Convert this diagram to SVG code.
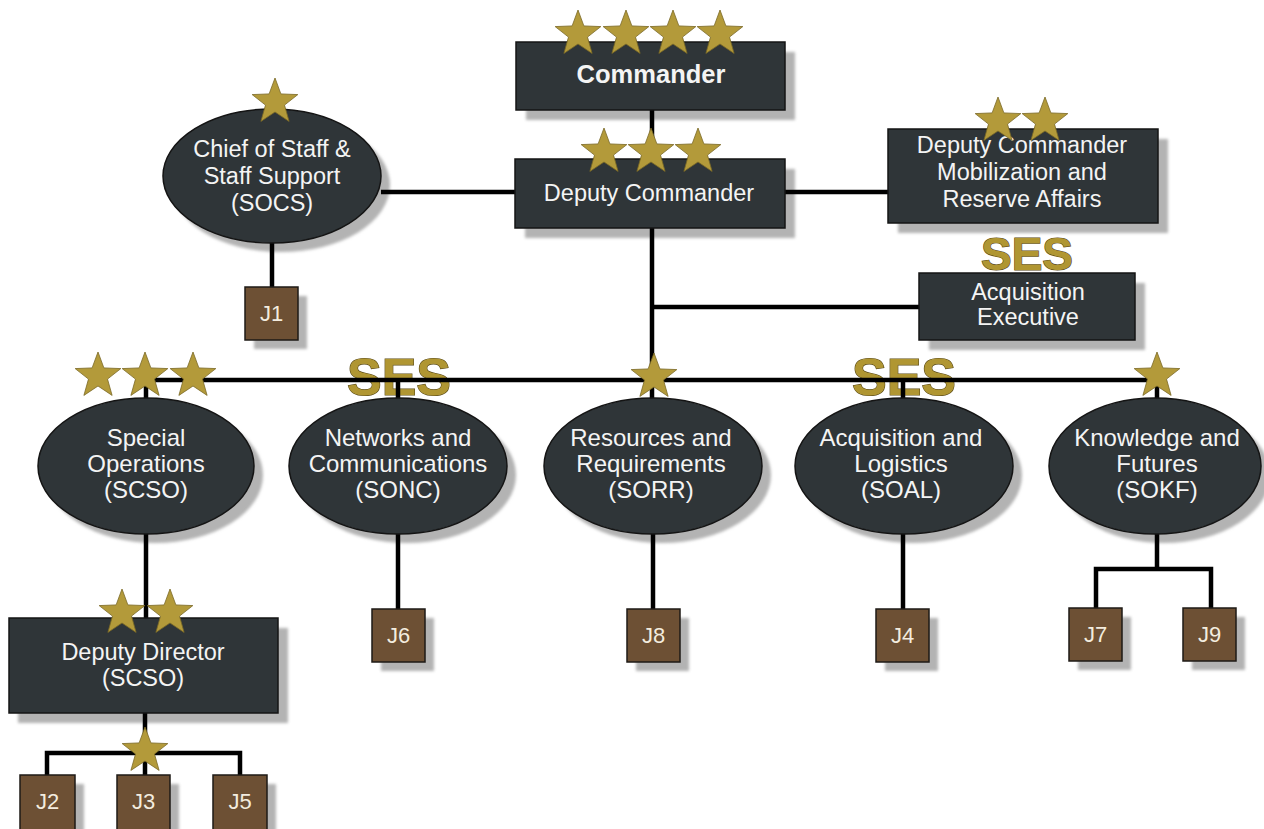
<svg xmlns="http://www.w3.org/2000/svg" xmlns:xlink="http://www.w3.org/1999/xlink" width="1264" height="829" viewBox="0 0 1264 829">
<defs>
<style>
.box{fill:#2f3538;stroke:#141414;stroke-width:1.5}
.jb{fill:#6d5034;stroke:#1e1a16;stroke-width:1.5}
.sh{fill:#b3b3b3;filter:url(#blur)}
.t{font-family:"Liberation Sans",Arial,sans-serif;fill:#f4f4f4;text-anchor:middle}
.lt{font-size:23.5px}
.et{font-size:24px}
.jt{font-size:22px;fill:#f3ecdf}
.ses{font-family:"Liberation Sans",Arial,sans-serif;font-weight:bold;fill:#b09632;stroke:#5a4a16;stroke-width:1.2;text-anchor:middle;paint-order:stroke}
.star{fill:#b39a3a;stroke:#7a6826;stroke-width:0.8}
.con{fill:none;stroke:#000;stroke-width:4.5}
</style>
<filter id="blur" x="-10%" y="-10%" width="120%" height="120%"><feGaussianBlur stdDeviation="1.5"/></filter>
<path id="star" class="star" d="M0,-24 L5.88,-8.09 L22.83,-7.42 L9.51,3.09 L14.11,19.42 L0,10 L-14.11,19.42 L-9.51,3.09 L-22.83,-7.42 L-5.88,-8.09 Z"/>
</defs>
<rect width="1264" height="829" fill="#ffffff"/>

<g id="shadows">
<rect class="sh" x="526" y="52" width="269" height="68"/>
<rect class="sh" x="525" y="169" width="270" height="69"/>
<ellipse class="sh" cx="281" cy="185" rx="109" ry="67"/>
<rect class="sh" x="898" y="139" width="270" height="94"/>
<rect class="sh" x="929" y="283" width="216" height="67"/>
<rect class="sh" x="254" y="296" width="53" height="53"/>
<ellipse class="sh" cx="155" cy="475" rx="108" ry="68"/>
<ellipse class="sh" cx="407" cy="475" rx="109" ry="68"/>
<ellipse class="sh" cx="662" cy="475" rx="109" ry="68"/>
<ellipse class="sh" cx="913" cy="475" rx="109" ry="68"/>
<ellipse class="sh" cx="1164" cy="475" rx="106" ry="68"/>
<rect class="sh" x="18" y="628" width="270" height="95"/>
<rect class="sh" x="381" y="618" width="53" height="53"/>
<rect class="sh" x="636" y="618" width="53" height="53"/>
<rect class="sh" x="885" y="618" width="53" height="53"/>
<rect class="sh" x="1078" y="617" width="53" height="53"/>
<rect class="sh" x="1192" y="617" width="53" height="53"/>
<rect class="sh" x="29" y="784" width="55" height="54"/>
<rect class="sh" x="126" y="784" width="53" height="54"/>
<rect class="sh" x="222" y="784" width="54" height="54"/>
</g>

<g id="ses-badges">
<text class="ses" x="1027" y="270" font-size="46">SES</text>
<text class="ses" x="399" y="395" font-size="52">SES</text>
<text class="ses" x="904" y="395" font-size="52">SES</text>
</g>

<g id="connectors">
<path class="con" d="M652,110 V159"/>
<path class="con" d="M381,192 H515"/>
<path class="con" d="M785,192 H888"/>
<path class="con" d="M652,228 V380"/>
<path class="con" d="M652,307 H919"/>
<path class="con" d="M146,380 H1157"/>
<path class="con" d="M146,380 V400 M398,380 V400 M652,380 V400 M903,380 V400 M1157,380 V400"/>
<path class="con" d="M272,243 V287"/>
<path class="con" d="M146,534 V618"/>
<path class="con" d="M398,534 V609"/>
<path class="con" d="M653,534 V609"/>
<path class="con" d="M903,534 V609"/>
<path class="con" d="M1157,534 V569 M1096,608 V569 H1211 V608"/>
<path class="con" d="M145,712 V775 M47,775 V753 H240 V775"/>
</g>

<g id="commander">
<rect class="box" x="516" y="42" width="269" height="68"/>
<text class="t" x="651" y="83" font-size="25.5" font-weight="bold">Commander</text>
<use href="#star" x="578" y="34"/>
<use href="#star" x="626" y="34"/>
<use href="#star" x="673" y="34"/>
<use href="#star" x="720" y="34"/>
</g>

<g id="deputy-commander">
<rect class="box" x="515" y="159" width="270" height="69"/>
<text class="t lt" x="649" y="201">Deputy Commander</text>
<use href="#star" x="604" y="152"/>
<use href="#star" x="651" y="152"/>
<use href="#star" x="698" y="152"/>
</g>

<g id="chief-of-staff">
<ellipse class="box" cx="272" cy="176" rx="109" ry="67"/>
<text class="t lt" x="272" y="157">Chief of Staff &amp;</text>
<text class="t lt" x="272" y="184">Staff Support</text>
<text class="t lt" x="272" y="211">(SOCS)</text>
<use href="#star" x="275" y="102"/>
</g>

<g id="dc-mobilization">
<rect class="box" x="888" y="129" width="270" height="94"/>
<text class="t lt" x="1022" y="153">Deputy Commander</text>
<text class="t lt" x="1022" y="180">Mobilization and</text>
<text class="t lt" x="1022" y="207">Reserve Affairs</text>
<use href="#star" x="998" y="121"/>
<use href="#star" x="1045" y="121"/>
</g>

<g id="acquisition-executive">
<rect class="box" x="919" y="273" width="216" height="67"/>
<text class="t lt" x="1028" y="300">Acquisition</text>
<text class="t lt" x="1028" y="325">Executive</text>
</g>

<g id="j1">
<rect class="jb" x="245" y="287" width="53" height="53"/>
<text class="t jt" x="271.5" y="321">J1</text>
</g>

<g id="special-operations">
<ellipse class="box" cx="146" cy="466" rx="108" ry="68"/>
<text class="t et" x="146" y="446">Special</text>
<text class="t et" x="146" y="472">Operations</text>
<text class="t et" x="146" y="498">(SCSO)</text>
<use href="#star" x="98" y="376"/>
<use href="#star" x="145" y="376"/>
<use href="#star" x="193" y="376"/>
</g>

<g id="networks">
<ellipse class="box" cx="398" cy="466" rx="109" ry="68"/>
<text class="t et" x="398" y="446">Networks and</text>
<text class="t et" x="398" y="472">Communications</text>
<text class="t et" x="398" y="498">(SONC)</text>
</g>

<g id="resources">
<ellipse class="box" cx="653" cy="466" rx="109" ry="68"/>
<text class="t et" x="651" y="446">Resources and</text>
<text class="t et" x="651" y="472">Requirements</text>
<text class="t et" x="651" y="498">(SORR)</text>
<use href="#star" x="654" y="377"/>
</g>

<g id="acquisition-logistics">
<ellipse class="box" cx="904" cy="466" rx="109" ry="68"/>
<text class="t et" x="901" y="446">Acquisition and</text>
<text class="t et" x="901" y="472">Logistics</text>
<text class="t et" x="901" y="498">(SOAL)</text>
</g>

<g id="knowledge-futures">
<ellipse class="box" cx="1155" cy="466" rx="106" ry="68"/>
<text class="t et" x="1157" y="446">Knowledge and</text>
<text class="t et" x="1157" y="472">Futures</text>
<text class="t et" x="1157" y="498">(SOKF)</text>
<use href="#star" x="1157" y="376"/>
</g>

<g id="deputy-director">
<rect class="box" x="9" y="618" width="269" height="95"/>
<text class="t lt" x="143" y="660">Deputy Director</text>
<text class="t lt" x="143" y="686">(SCSO)</text>
<use href="#star" x="122" y="613"/>
<use href="#star" x="170" y="613"/>
</g>

<g id="j6"><rect class="jb" x="372" y="609" width="53" height="53"/><text class="t jt" x="398.5" y="643">J6</text></g>
<g id="j8"><rect class="jb" x="627" y="609" width="53" height="53"/><text class="t jt" x="653.5" y="643">J8</text></g>
<g id="j4"><rect class="jb" x="876" y="609" width="53" height="53"/><text class="t jt" x="902.5" y="643">J4</text></g>
<g id="j7"><rect class="jb" x="1069" y="608" width="53" height="53"/><text class="t jt" x="1095.5" y="642">J7</text></g>
<g id="j9"><rect class="jb" x="1183" y="608" width="53" height="53"/><text class="t jt" x="1209.5" y="642">J9</text></g>
<g id="j2"><rect class="jb" x="20" y="775" width="55" height="56"/><text class="t jt" x="47.5" y="809">J2</text></g>
<g id="j3"><rect class="jb" x="117" y="775" width="53" height="56"/><text class="t jt" x="143.5" y="809">J3</text>
<use href="#star" x="145" y="751"/></g>
<g id="j5"><rect class="jb" x="213" y="775" width="54" height="56"/><text class="t jt" x="240" y="809">J5</text></g>
</svg>
